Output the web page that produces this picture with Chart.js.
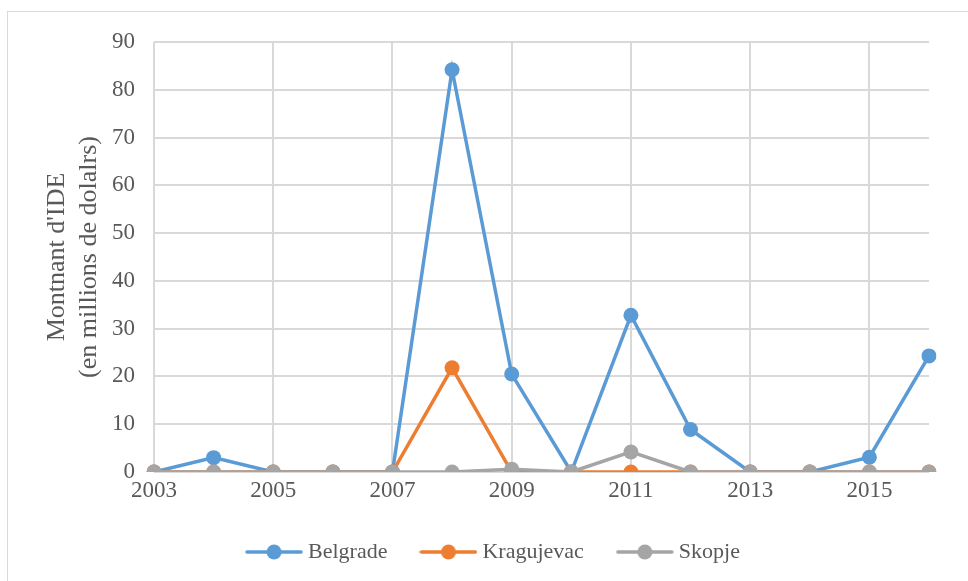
<!DOCTYPE html>
<html>

<head>
    <script src="https://cdn.jsdelivr.net/npm/chart.js@4/dist/chart.umd.min.js"></script>
</head>

<style>
    body {
        margin: 0;
        background: white;
    }

    .frame {
        position: absolute;
        left: 7px;
        top: 11px;
        width: 980px;
        height: 600px;
        border: 1px solid #d9d9d9;
    }

    .holder {
        position: absolute;
        left: 0;
        top: 0;
        width: 968px;
        height: 581px;
    }
</style>

<body>
    <div class="frame"></div>
    <div class="holder">
        <canvas id="myChart" width="968" height="581"></canvas>
    </div>
</body>

<script>
    var years = ['2003', '2004', '2005', '2006', '2007', '2008', '2009', '2010', '2011', '2012', '2013', '2014', '2015', '2016'];
    var belgrade = [0, 3, 0, 0, 0, 84.2, 20.5, 0, 32.8, 8.9, 0, 0, 3.1, 24.3];
    var kragujevac = [0, 0, 0, 0, 0, 21.8, 0, 0, 0, 0, 0, 0, 0, 0];
    var skopje = [0, 0, 0, 0, 0, 0, 0.6, 0, 4.2, 0, 0, 0, 0, 0];
    var seriesNames = ['Belgrade', 'Kragujevac', 'Skopje'];
    var colors = ['#5b9bd5', '#ed7d31', '#a5a5a5'];
    var yTitle = ["Montnant d'IDE", "(en millions de dolalrs)"];

    var textColor = '#595959';
    var font = 'Liberation Serif';

    // legend icon: short line with a dot in the middle
    function makeIcon(color) {
        var c = document.createElement('canvas');
        c.width = 58;
        c.height = 16;
        var g = c.getContext('2d');
        g.strokeStyle = color;
        g.lineWidth = 3.5;
        g.lineCap = 'round';
        g.beginPath();
        g.moveTo(2, 8);
        g.lineTo(56, 8);
        g.stroke();
        g.fillStyle = color;
        g.beginPath();
        g.arc(29, 8, 7.5, 0, Math.PI * 2);
        g.fill();
        return c;
    }
    var icons = colors.map(makeIcon);

    function line(name, data, color, order) {
        return {
            label: name,
            data: data,
            borderColor: color,
            backgroundColor: color,
            borderWidth: 3.5,
            pointRadius: 7.5,
            pointBorderWidth: 0,
            pointBackgroundColor: color,
            tension: 0,
            order: order
        };
    }

    var ctx = document.getElementById('myChart').getContext('2d');
    var chart = new Chart(ctx, {
        type: 'line',
        data: {
            labels: years,
            datasets: [
                line(seriesNames[0], belgrade, colors[0], 2),
                line(seriesNames[1], kragujevac, colors[1], 1),
                line(seriesNames[2], skopje, colors[2], 0)
            ]
        },
        options: {
            responsive: false,
            animation: false,
            layout: {
                padding: { left: 62, right: 39, top: 42, bottom: 8 }
            },
            plugins: {
                tooltip: { enabled: false },
                legend: {
                    position: 'bottom',
                    labels: {
                        usePointStyle: true,
                        pointStyleWidth: 46,
                        padding: 38,
                        color: textColor,
                        font: { family: font, size: 22 },
                        sort: function (a, b) { return a.datasetIndex - b.datasetIndex; },
                        generateLabels: function (c) {
                            return Chart.defaults.plugins.legend.labels.generateLabels(c).map(function (l) {
                                l.pointStyle = icons[l.datasetIndex];
                                return l;
                            });
                        }
                    }
                }
            },
            scales: {
                x: {
                    offset: false,
                    border: { display: false },
                    grid: {
                        drawTicks: false,
                        lineWidth: 2,
                        color: function (c) { return c.index % 2 === 0 ? '#d9d9d9' : 'rgba(0,0,0,0)'; }
                    },
                    ticks: {
                        autoSkip: false,
                        maxRotation: 0,
                        padding: 5,
                        color: textColor,
                        font: { family: font, size: 23 },
                        callback: function (v, i) { return i % 2 === 0 ? years[i] : ''; }
                    },
                    afterFit: function (s) { s.height = 31; }
                },
                y: {
                    min: 0,
                    max: 90,
                    border: { display: false },
                    grid: { drawTicks: false, lineWidth: 2, color: '#d9d9d9' },
                    ticks: {
                        stepSize: 10,
                        padding: 19,
                        color: textColor,
                        font: { family: font, size: 23 }
                    },
                    title: {
                        display: true,
                        text: yTitle,
                        color: textColor,
                        padding: { top: -20, bottom: 0 },
                        font: { family: font, size: 26, lineHeight: 1.2 }
                    },
                    afterFit: function (s) { s.width = 92; }
                }
            }
        }
    });
</script>

</html>
